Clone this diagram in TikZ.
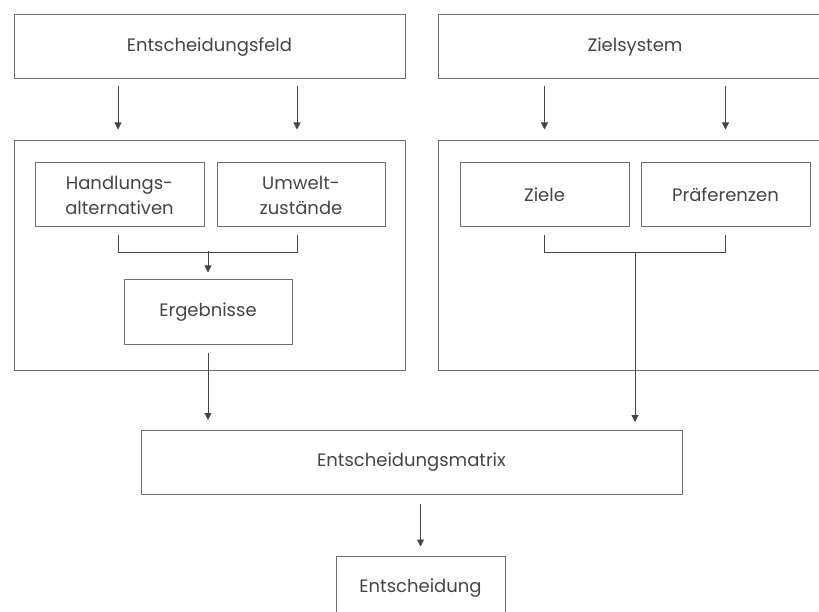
\documentclass[tikz,border=0pt]{standalone}
\usepackage{fontspec}
\setmainfont{Poppins}
\usetikzlibrary{positioning,arrows.meta,calc}
\definecolor{rahmen}{HTML}{707070}
\definecolor{schrift}{HTML}{454545}
\tikzstyle{kasten} = [
rectangle,
draw=rahmen,
line width=1pt,
text=schrift,
align=center,
font=\fontsize{18}{25}\selectfont,
minimum height=64pt,
inner sep=0pt
]
\tikzstyle{bereich} = [
rectangle,
draw=rahmen,
line width=1pt,
minimum height=229pt
]
\tikzstyle{pfeil} = [
-{Triangle[length=7pt,width=7pt]},
draw=schrift,
line width=0.8pt
]
\tikzstyle{linie} = [
draw=schrift,
line width=0.8pt
]

\begin{document}
\begin{tikzpicture}[
	x=1pt,
	y=-1pt
	]
	\useasboundingbox (0,0) rectangle (819,612);
	
	\node[kasten,minimum width=391pt] (feld) at (209.5,47) {Entscheidungsfeld};
	\node[kasten,minimum width=394pt] (ziel) at (635,47) {Zielsystem};
	
	\node[bereich,minimum width=391pt] (links) at (209.5,255.5) {};
	\node[bereich,minimum width=394pt] (rechts) at (635,255.5) {};
	
	\node[kasten,minimum width=169pt] (hand) at (119.5,195) {Handlungs-\\alternativen};
	\node[kasten,minimum width=168pt,right=12pt of hand] (umwelt) {Umwelt-\\zustände};
	\node[kasten,minimum width=168pt] (ergeb) at (208,312) {Ergebnisse};
	
	\node[kasten,minimum width=169pt] (ziele) at (544.5,195) {Ziele};
	\node[kasten,minimum width=169pt,right=11pt of ziele] (praef) {Präferenzen};
	
	\node[kasten,minimum width=541pt] (matrix) at (411.5,462.5) {Entscheidungsmatrix};
	\node[kasten,minimum width=169pt] (entsch) at (420.5,588) {Entscheidung};
	
	\draw[pfeil,shorten <=7pt,shorten >=11pt] ([xshift=-1.5pt]hand.north |- feld.south) -- ([xshift=-1.5pt]hand.north |- links.north);
	\draw[pfeil,shorten <=7pt,shorten >=11pt] ([xshift=-4pt]umwelt.north |- feld.south) -- ([xshift=-4pt]umwelt.north |- links.north);
	\draw[pfeil,shorten <=7pt,shorten >=11pt] (ziele.north |- ziel.south) -- (ziele.north |- rechts.north);
	\draw[pfeil,shorten <=7pt,shorten >=11pt] (praef.north |- ziel.south) -- (praef.north |- rechts.north);
	
	\draw[linie] ($(hand.south)+(-1.5,8)$) |- ($(umwelt.south)+(-4,25)$) -- ($(umwelt.south)+(-4,8)$);
	\draw[pfeil] ($(ergeb.north)+(0,-28)$) -- ($(ergeb.north)+(0,-7)$);
	\draw[linie] ($(ziele.south)+(0,8)$) |- ($(praef.south)+(0,25)$) -- ($(praef.south)+(0,8)$);
	\draw[pfeil,shorten >=8pt] ($(rechts.center |- ziele.south)+(0,25)$) -- (rechts.center |- matrix.north);
	
	\draw[pfeil,shorten <=8pt,shorten >=10pt] (ergeb.south) -- (ergeb.south |- matrix.north);
	\draw[pfeil,shorten <=9pt,shorten >=9pt] (entsch.north |- matrix.south) -- (entsch.north);
\end{tikzpicture}
\end{document}
